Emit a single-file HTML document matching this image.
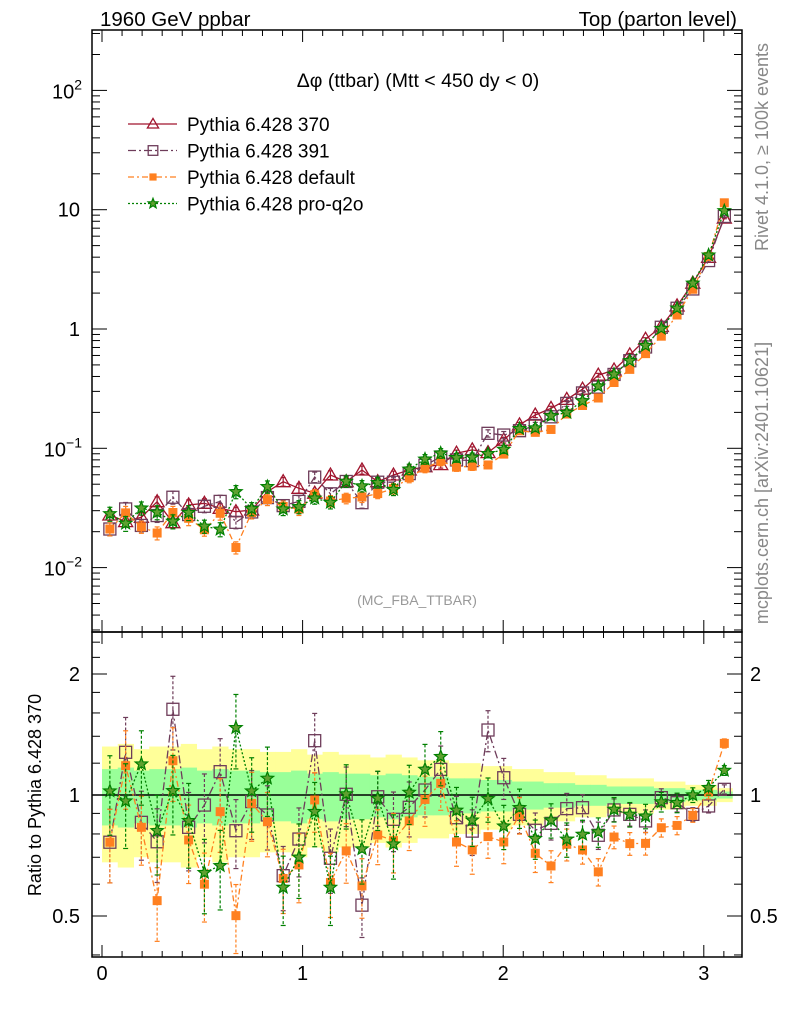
<!DOCTYPE html>
<html><head><meta charset="utf-8"><style>
html,body{margin:0;padding:0;background:#fff;}
svg{display:block;font-family:"Liberation Sans",sans-serif;}
</style></head><body>
<svg id="c" width="786" height="1024" viewBox="0 0 786 1024"></svg>
<script>
const categories = Array.from({length:40},(_,i)=>(i+0.5)*Math.PI/40);
const ref370 = [0.0276,0.0243,0.0264,0.0357,0.0238,0.0335,0.0346,0.0314,0.0294,0.0304,0.0433,0.0525,0.0462,0.042,0.0597,0.0525,0.0658,0.0525,0.0597,0.0658,0.070,0.073,0.091,0.097,0.092,0.117,0.157,0.19,0.216,0.257,0.313,0.41,0.453,0.606,0.82,1.05,1.56,2.42,3.99,8.5];
const ratio391 = [0.763,1.277,0.855,0.765,1.634,0.831,0.944,1.143,0.815,0.963,0.892,0.630,0.777,1.365,0.696,1.004,0.532,0.990,0.870,0.932,1.029,1.158,0.878,0.813,1.451,1.104,0.895,0.817,0.850,0.925,0.930,0.794,0.918,0.895,0.862,0.985,0.957,0.895,0.939,1.033];
const ratioDefault = [0.763,1.183,0.831,0.546,1.217,0.773,0.600,0.909,0.501,0.953,0.858,0.620,0.670,0.972,0.606,0.726,0.594,0.795,0.770,0.862,0.975,1.069,0.764,0.730,0.788,0.764,0.892,0.716,0.666,0.754,0.730,0.644,0.786,0.757,0.758,0.829,0.840,0.890,1.017,1.344];
const ratioQ2o = [1.023,0.966,1.194,0.815,1.025,0.863,0.641,0.667,1.470,1.023,1.100,0.589,0.700,0.909,0.589,1.006,0.734,0.981,0.755,1.015,1.158,1.246,0.916,0.866,0.979,0.837,0.930,0.779,0.866,0.776,0.798,0.809,0.921,0.895,0.886,0.961,0.957,1.0,1.043,1.151];
const relErr = [0.16,0.17,0.15,0.16,0.16,0.17,0.15,0.16,0.15,0.15,0.14,0.14,0.15,0.13,0.14,0.13,0.13,0.12,0.13,0.12,0.11,0.11,0.1,0.1,0.09,0.09,0.08,0.08,0.07,0.07,0.06,0.06,0.05,0.05,0.05,0.04,0.04,0.03,0.03,0.02];
const xTicks = [0,1,2,3];
const mainTicks = [{v:100,t:"10",e:"2"},{v:10,t:"10",e:""},{v:1,t:"1",e:""},{v:0.1,t:"10",e:"−1"},{v:0.01,t:"10",e:"−2"}];
const ratioTicks = [{v:2,t:"2"},{v:1,t:"1"},{v:0.5,t:"0.5"}];

const NS="http://www.w3.org/2000/svg", svg=document.getElementById('c');
const L=92,R=742,T1=30,B1=632,T2=632,B2=957;
const xP=x=>102+200.6*x;
const yM=v=>329-119.3*Math.log10(v);
const yR=r=>795-121*Math.log2(r);
const binW=Math.PI/40;
function mk(tag,a,parent){const e=document.createElementNS(NS,tag);for(const k in a)e.setAttribute(k,a[k]);(parent||svg).appendChild(e);return e;}
function grp(name){const g=mk('g',{});return g;}

const defs=mk('defs',{});
const c1=mk('clipPath',{id:'cp1'},defs);mk('rect',{x:L,y:T1,width:R-L,height:B1-T1},c1);
const c2=mk('clipPath',{id:'cp2'},defs);mk('rect',{x:L,y:T2,width:R-L,height:B2-T2},c2);

const bands=grp('uncertainty-bands');bands.setAttribute('clip-path','url(#cp2)');
categories.forEach((x,i)=>{
  const x0=xP(x-binW/2),x1=xP(x+binW/2);
  const e=relErr[i];
  const y=mk('rect',{x:x0,y:yR(1+2*e),width:x1-x0+0.5,height:yR(1-2*e)-yR(1+2*e),fill:'#ffff99'},bands);
  
});
categories.forEach((x,i)=>{
  const x0=xP(x-binW/2),x1=xP(x+binW/2);
  const e=relErr[i];
  const g=mk('rect',{x:x0,y:yR(1+e),width:x1-x0+0.5,height:yR(1-e)-yR(1+e),fill:'#99ff99'},bands);
  
});
mk('line',{x1:L,x2:R,y1:yR(1),y2:yR(1),stroke:'#000','stroke-width':1.5},bands);

const series=[
 {name:'pythia-370',col:'#a0142d',dash:'',mark:'tri',ratio:categories.map(()=>1),err:1.0},
 {name:'pythia-391',col:'#6e3c5a',dash:'8,3,2,3',mark:'sq',ratio:ratio391,err:1.3},
 {name:'pythia-default',col:'#ff8020',dash:'6,3,2,3',mark:'fsq',ratio:ratioDefault,err:1.3},
 {name:'pythia-pro-q2o',col:'#008000',dash:'2,2',mark:'star',ratio:ratioQ2o,err:1.4}
];
function marker(g,m,x,y,col,s){
  s=s||1;let e;
  if(m==='tri') e=mk('path',{d:`M${x},${y-7*s}L${x+7*s},${y+5*s}L${x-7*s},${y+5*s}Z`,fill:'none',stroke:col,'stroke-width':1.3},g);
  else if(m==='sq') e=mk('rect',{x:x-6*s,y:y-6*s,width:12*s,height:12*s,fill:'none',stroke:col,'stroke-width':1.3},g);
  else if(m==='fsq') e=mk('rect',{x:x-4.5*s,y:y-4.5*s,width:9*s,height:9*s,fill:col},g);
  else {let p='';for(let k=0;k<10;k++){const r=(k%2?2.8:6.5)*s,a=-Math.PI/2+k*Math.PI/5;p+=(k?'L':'M')+(x+r*Math.cos(a)).toFixed(1)+','+(y+r*Math.sin(a)).toFixed(1);}
    e=mk('path',{d:p+'Z',fill:'#60a030',stroke:col,'stroke-width':1.2},g);}
  
}
function drawSeries(s,panel){
  const g=grp(s.name+'-'+panel);g.setAttribute('clip-path',panel==='main'?'url(#cp1)':'url(#cp2)');
  const vals=panel==='main'?categories.map((x,i)=>ref370[i]*s.ratio[i]):s.ratio;
  const yf=panel==='main'?yM:yR;
  if(panel==='ratio'&&s.mark==='tri')return;
  const pts=categories.map((x,i)=>xP(x).toFixed(1)+','+yf(vals[i]).toFixed(1)).join(' ');
  const pl=mk('polyline',{points:pts,fill:'none',stroke:s.col,'stroke-width':1.3,'stroke-dasharray':s.dash},g);
  
  categories.forEach((x,i)=>{
    const e=relErr[i]*s.err*(panel==='main'?0.6:1);
    const v=vals[i],px=xP(x);
    const ya=yf(v*(1+e)),yb=yf(Math.max(v*(1-e),1e-4));
    const eb=mk('line',{x1:px,x2:px,y1:ya,y2:yb,stroke:s.col,'stroke-width':1.2,'stroke-dasharray':s.dash?'3,2':''},g);
    
    mk('line',{x1:px-2.5,x2:px+2.5,y1:ya,y2:ya,stroke:s.col,'stroke-width':1.2},g);
    mk('line',{x1:px-2.5,x2:px+2.5,y1:yb,y2:yb,stroke:s.col,'stroke-width':1.2},g);
    marker(g,s.mark,px,yf(v),s.col);
  });
}
series.forEach(s=>drawSeries(s,'ratio'));
series.forEach(s=>drawSeries(s,'main'));

const fr=grp('frames');
mk('rect',{x:L,y:T1,width:R-L,height:B1-T1,fill:'none',stroke:'#000','stroke-width':1.5},fr);
mk('rect',{x:L,y:T2,width:R-L,height:B2-T2,fill:'none',stroke:'#000','stroke-width':1.5},fr);

const ax=grp('axes');
for(let d=-3;d<=2;d++)for(let m=1;m<10;m++){
  const v=m*Math.pow(10,d),y=yM(v);if(y<T1||y>B1)continue;
  const len=m===1?15:8;
  mk('line',{x1:L,x2:L+len,y1:y,y2:y,stroke:'#000','stroke-width':1},ax);
  mk('line',{x1:R,x2:R-len,y1:y,y2:y,stroke:'#000','stroke-width':1},ax);
}
[0.4,0.5,0.6,0.7,0.8,0.9,1,1.2,1.4,1.6,1.8,2,2.2,2.4].forEach(v=>{
  const y=yR(v),len=(v===0.5||v===1||v===2)?15:8;
  mk('line',{x1:L,x2:L+len,y1:y,y2:y,stroke:'#000','stroke-width':1},ax);
  mk('line',{x1:R,x2:R-len,y1:y,y2:y,stroke:'#000','stroke-width':1},ax);
});
for(let k=0;k<=31;k++){
  const x=k/10,px=xP(x);if(px>R)break;const len=k%10===0?12:6;
  [[B1,-1],[T1,1],[B2,-1],[T2,1]].forEach(([y0,s])=>mk('line',{x1:px,x2:px,y1:y0,y2:y0+s*len,stroke:'#000','stroke-width':1},ax));
}
function txt(s,a,name,html){const e=mk('text',a);if(html)e.innerHTML=s;else e.textContent=s;return e;}
xTicks.forEach(v=>txt(String(v),{x:xP(v),y:980,'font-size':20,'text-anchor':'middle'},'x-tick-label'));
mainTicks.forEach(t=>{
  const y=yM(t.v);
  if(t.e) txt(`${t.t}<tspan dy="-9" font-size="14">${t.e}</tspan>`,{x:82,y:y+8,'font-size':20,'text-anchor':'end'},'y-tick-label',true);
  else txt(t.t,{x:80,y:y+7,'font-size':20,'text-anchor':'end'},'y-tick-label');
});
ratioTicks.forEach(t=>{
  txt(t.t,{x:80,y:yR(t.v)+7,'font-size':20,'text-anchor':'end'},'ratio-tick-label');
  txt(t.t,{x:750,y:yR(t.v)+7,'font-size':20,'text-anchor':'start'},'ratio-tick-label-right');
});
txt('Ratio to Pythia 6.428 370',{x:0,y:0,'font-size':18,'text-anchor':'middle',transform:'translate(41,795) rotate(-90)'},'y-axis-title');
txt('1960 GeV ppbar',{x:100,y:26,'font-size':20.5},'title-left');
txt('Top (parton level)',{x:737,y:26,'font-size':20.5,'text-anchor':'end'},'title-right');
txt('Δφ (ttbar) (Mtt &lt; 450 dy &lt; 0)',{x:418,y:87,'font-size':19.5,'text-anchor':'middle'},'plot-title',true);
txt('(MC_FBA_TTBAR)',{x:417,y:605,'font-size':14,fill:'#999','text-anchor':'middle'},'analysis-label');
txt('Rivet 4.1.0, ≥ 100k events',{x:0,y:0,'font-size':18,fill:'#888','text-anchor':'middle',transform:'translate(768,147) rotate(-90)'},'rivet-label');
txt('mcplots.cern.ch [arXiv:2401.10621]',{x:0,y:0,'font-size':18,fill:'#888','text-anchor':'middle',transform:'translate(768,483) rotate(-90)'},'mcplots-label');

const lg=grp('legend');
const labels=['Pythia 6.428 370','Pythia 6.428 391','Pythia 6.428 default','Pythia 6.428 pro-q2o'];
series.forEach((s,i)=>{
  const y=124+i*26.5;
  const g=mk('g',{},lg);
  mk('line',{x1:128,x2:177,y1:y,y2:y,stroke:s.col,'stroke-width':1.3,'stroke-dasharray':s.dash},g);
  marker(g,s.mark,153,y,s.col,0.8);
  txt(labels[i],{x:187,y:y+7,'font-size':19},'legend-label');
});
</script>
</body></html>
